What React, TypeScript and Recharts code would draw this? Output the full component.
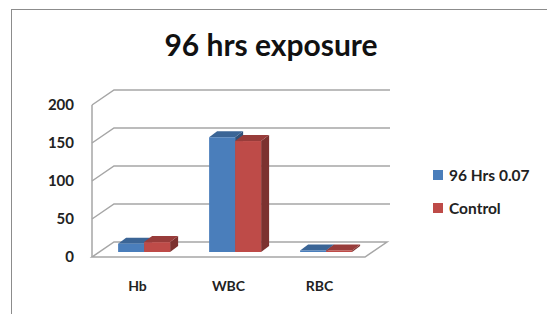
import React from "react";
import { BarChart, Bar, XAxis, YAxis, CartesianGrid } from "recharts";

const categories = ["Hb", "WBC", "RBC"];
const exposed = [11, 151, 2];
const control = [13, 146, 2];
const yTicks = [0, 50, 100, 150, 200];
const seriesNames = ["96 Hrs 0.07", "Control"];
const seriesColors = ["#4a7ebb", "#be4b48"];

const data = categories.map((name, i) => ({ name, exposed: exposed[i], control: control[i] }));

const DX = 22;
const DY = -15;
const font = "Lato, 'Open Sans', sans-serif";

function shade(hex: string, f: number) {
  const n = parseInt(hex.slice(1), 16);
  const r = Math.round(((n >> 16) & 255) * f);
  const g = Math.round(((n >> 8) & 255) * f);
  const b = Math.round((n & 255) * f);
  return `rgb(${r},${g},${b})`;
}

// 3D box sitting in the middle of the floor depth
function Box3D(props: any) {
  const { x, y, width, height, fill } = props;
  if (width == null || height == null) return null;
  const ox = 7, oy = -5, dx = 8, dy = -6;
  const fx = x + ox, fy = y + oy;
  const top = `${fx},${fy} ${fx + dx},${fy + dy} ${fx + width + dx},${fy + dy} ${fx + width},${fy}`;
  const side = `${fx + width},${fy} ${fx + width + dx},${fy + dy} ${fx + width + dx},${fy + height + dy} ${fx + width},${fy + height}`;
  return (
    <g>
      <polygon points={side} fill={shade(fill, 0.65)} />
      <polygon points={top} fill={shade(fill, 0.8)} />
      <rect x={fx} y={fy} width={width} height={height} fill={fill} />
    </g>
  );
}

function GridLine(props: any) {
  const { x1, y1, x2, index } = props;
  const stroke = "#a6a6a6";
  if (index === 0) {
    return (
      <g>
        <polygon
          points={`${x1},${y1} ${x2},${y1} ${x2 + DX},${y1 + DY} ${x1 + DX},${y1 + DY}`}
          fill="none" stroke={stroke} strokeWidth={1.5}
        />
        <line x1={x1} y1={y1} x2={x1} y2={105} stroke={stroke} strokeWidth={1.5} />
      </g>
    );
  }
  return (
    <polyline
      points={`${x1},${y1} ${x1 + DX},${y1 + DY} ${x2 + DX + 3},${y1 + DY}`}
      fill="none" stroke={stroke} strokeWidth={1.5}
    />
  );
}

export default function App() {
  return (
    <div style={{ position: "fixed", left: 0, top: 0, width: 547, height: 314, background: "#fff" }}>
      <div style={{ position: "absolute", left: 11, top: 9, right: 0, bottom: 0, borderLeft: "1.5px solid #8c8c8c", borderTop: "1.5px solid #8c8c8c" }} />
      <div style={{ position: "absolute", left: 0, width: 542, top: 26, textAlign: "center", fontFamily: font, fontWeight: 700, fontSize: 30, color: "#111" }}>
        96 hrs exposure
      </div>
      <BarChart
        width={547}
        height={314}
        data={data}
        margin={{ top: 105, right: 182, bottom: 27, left: 0 }}
        barCategoryGap="21%"
        barGap={0}
        style={{ position: "absolute", left: 0, top: 0 }}
      >
        <CartesianGrid vertical={false} horizontal={(p: any) => <GridLine {...p} />} />
        <XAxis
          dataKey="name"
          height={30}
          axisLine={false}
          tickLine={false}
          tickSize={0}
          tickMargin={24}
          tick={{ fill: "#222", fontSize: 14, fontWeight: 700, fontFamily: font }}
        />
        <YAxis
          domain={[0, 200]}
          ticks={yTicks}
          width={92}
          axisLine={false}
          tickLine={false}
          tickSize={0}
          tickMargin={18}
          tick={{ fill: "#222", fontSize: 15, fontWeight: 700, fontFamily: font }}
        />
        <Bar dataKey="exposed" name={seriesNames[0]} fill={seriesColors[0]} shape={<Box3D />} isAnimationActive={false} />
        <Bar dataKey="control" name={seriesNames[1]} fill={seriesColors[1]} shape={<Box3D />} isAnimationActive={false} />
      </BarChart>
      <div style={{ position: "absolute", left: 433, top: 158, fontFamily: font, fontWeight: 700, fontSize: 15.5, color: "#222" }}>
        {seriesNames.map((n, i) => (
          <div key={n} style={{ display: "flex", alignItems: "center", height: 33 }}>
            <span style={{ width: 10, height: 10, background: seriesColors[i], marginRight: 6 }} />
            {n}
          </div>
        ))}
      </div>
    </div>
  );
}
